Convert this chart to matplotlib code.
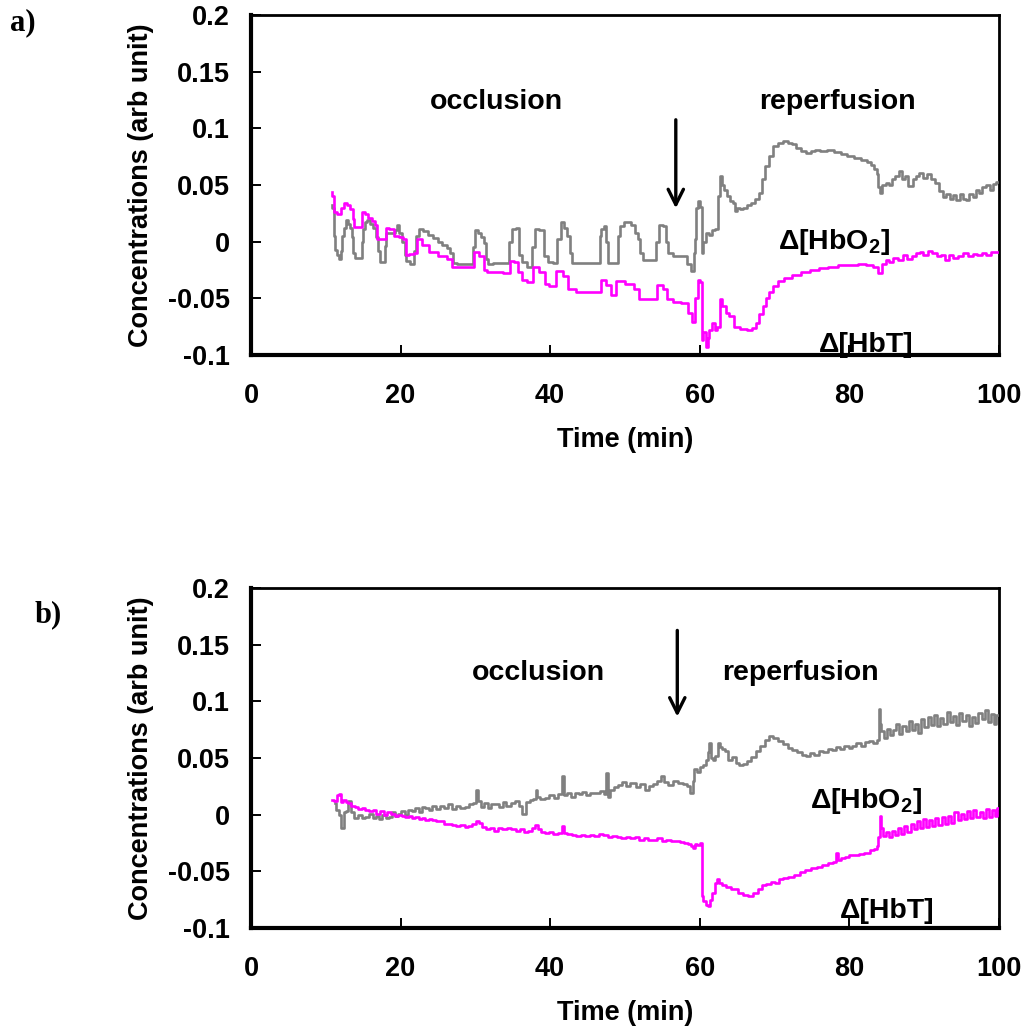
import matplotlib
matplotlib.use("Agg")
import matplotlib.pyplot as plt

plt.rcParams["font.family"] = ["Liberation Sans", "DejaVu Sans"]
plt.rcParams["font.weight"] = "bold"
plt.rcParams["mathtext.fontset"] = "custom"
plt.rcParams["mathtext.rm"] = "Liberation Sans:bold"
plt.rcParams["mathtext.default"] = "regular"

GRAY = "#808080"
MAGENTA = "#ff00ff"

# ---- panel a) : (time min, concentration) ----
hbo2_a = [
    (10.8, 0.032), (11.0, 0.030), (11.1, 0.005), (11.3, -0.007), (11.6, -0.012),
    (11.9, -0.015), (12.1, -0.008), (12.3, 0.005), (12.5, 0.012), (12.8, 0.019),
    (13.1, 0.016), (13.4, 0.012), (13.6, 0.004), (13.8, -0.010), (13.9, -0.014),
    (14.8, -0.014), (14.9, 0.000), (15.0, 0.011), (15.4, 0.017), (15.7, 0.019),
    (16.1, 0.016), (16.6, 0.012), (16.9, 0.004), (17.1, -0.008), (17.4, -0.018),
    (17.9, -0.018), (18.0, -0.004), (18.2, 0.008), (19.0, 0.008), (19.4, 0.010),
    (19.7, 0.015), (19.9, 0.008), (20.5, 0.000), (20.7, -0.012), (20.8, -0.017),
    (21.7, -0.020), (22.0, -0.008), (22.2, 0.005), (22.6, 0.011), (23.3, 0.009),
    (24.0, 0.006), (24.7, 0.003), (25.3, 0.000), (25.9, -0.003), (26.4, -0.006),
    (26.8, -0.010), (27.1, -0.019), (28.0, -0.020), (29.5, -0.020), (29.8, -0.005),
    (30.2, 0.010), (30.6, 0.008), (30.9, 0.004), (31.3, -0.001), (31.6, -0.015),
    (31.8, -0.020), (33.0, -0.019), (34.4, -0.019), (34.7, 0.000), (35.1, 0.011),
    (35.7, 0.012), (36.0, -0.012), (36.5, -0.018), (37.3, -0.022), (37.8, -0.005),
    (38.2, 0.011), (38.9, 0.010), (39.4, -0.013), (40.0, -0.018), (40.7, -0.019),
    (41.2, 0.002), (41.6, 0.017), (42.0, 0.012), (42.5, 0.005), (42.8, -0.010),
    (43.1, -0.019), (44.5, -0.019), (46.5, -0.019), (46.7, 0.005), (46.9, 0.011),
    (47.4, 0.014), (47.6, 0.000), (47.8, -0.019), (48.9, -0.019), (49.2, 0.005),
    (49.4, 0.014), (50.3, 0.017), (51.2, 0.015), (51.6, 0.008), (51.9, 0.002),
    (52.2, -0.010), (52.5, -0.016), (53.9, -0.016), (54.3, 0.000), (54.8, 0.015),
    (55.4, 0.014), (55.7, 0.000), (55.9, -0.010), (57.0, -0.013), (58.1, -0.013),
    (58.5, -0.020), (59.2, -0.026), (59.3, -0.010), (59.4, 0.002), (59.7, 0.030),
    (59.9, 0.036), (60.2, 0.031), (60.3, -0.010), (60.6, 0.000), (61.0, 0.008),
    (61.5, 0.006), (61.9, 0.010), (62.3, 0.011), (62.6, 0.040), (62.8, 0.058),
    (63.1, 0.050), (63.5, 0.046), (63.8, 0.040), (64.2, 0.036), (64.6, 0.034),
    (64.8, 0.027), (65.2, 0.030), (65.5, 0.029), (66.0, 0.030), (66.6, 0.032),
    (67.2, 0.034), (67.7, 0.038), (68.1, 0.043), (68.5, 0.055), (69.0, 0.067),
    (69.5, 0.076), (70.1, 0.084), (70.8, 0.087), (71.5, 0.089), (72.0, 0.087),
    (72.6, 0.086), (73.2, 0.083), (73.8, 0.080), (74.6, 0.078), (75.2, 0.080),
    (75.7, 0.081), (76.5, 0.080), (77.5, 0.081), (78.4, 0.079), (79.3, 0.077),
    (80.2, 0.076), (81.1, 0.074), (81.9, 0.072), (82.7, 0.070), (83.1, 0.068),
    (83.5, 0.064), (83.8, 0.060), (84.0, 0.048), (84.2, 0.043), (84.6, 0.050),
    (85.1, 0.052), (85.5, 0.050), (85.9, 0.055), (86.4, 0.058), (86.9, 0.062),
    (87.3, 0.055), (87.6, 0.058), (88.2, 0.049), (88.7, 0.055), (89.1, 0.058),
    (89.6, 0.061), (90.1, 0.056), (90.7, 0.060), (91.2, 0.055), (91.8, 0.052),
    (92.3, 0.045), (92.7, 0.039), (93.2, 0.042), (93.6, 0.038), (94.0, 0.041),
    (94.5, 0.037), (95.0, 0.042), (95.4, 0.038), (95.8, 0.037), (96.3, 0.042),
    (96.7, 0.039), (97.1, 0.046), (97.6, 0.043), (98.0, 0.048), (98.5, 0.050),
    (99.0, 0.046), (99.4, 0.051), (99.8, 0.053),
]

hbt_a = [
    (10.8, 0.044), (11.0, 0.040), (11.2, 0.026), (11.9, 0.024), (12.2, 0.030),
    (12.6, 0.034), (13.0, 0.032), (13.5, 0.029), (13.7, 0.020), (13.9, 0.013),
    (14.8, 0.013), (15.0, 0.026), (15.5, 0.024), (15.9, 0.021), (16.4, 0.018),
    (16.8, 0.015), (17.0, 0.002), (17.9, 0.002), (18.2, 0.012), (18.8, 0.011),
    (19.5, 0.005), (20.0, 0.004), (20.6, 0.002), (20.8, -0.012), (21.5, -0.011),
    (22.0, -0.010), (22.4, 0.002), (23.3, -0.003), (24.4, -0.009), (25.7, -0.013),
    (26.6, -0.015), (27.1, -0.022), (28.5, -0.022), (29.5, -0.022), (30.2, -0.009),
    (30.9, -0.013), (31.3, -0.025), (31.8, -0.027), (33.0, -0.027), (34.4, -0.028),
    (34.9, -0.017), (35.5, -0.018), (36.0, -0.027), (36.5, -0.034), (37.3, -0.036),
    (38.0, -0.022), (38.9, -0.027), (39.6, -0.037), (40.2, -0.039), (41.4, -0.026),
    (42.0, -0.030), (42.9, -0.042), (44.0, -0.044), (45.5, -0.044), (46.5, -0.044),
    (47.2, -0.034), (47.8, -0.038), (48.5, -0.047), (49.2, -0.035), (50.7, -0.037),
    (51.6, -0.042), (52.1, -0.051), (53.0, -0.051), (53.9, -0.051), (54.8, -0.038),
    (55.4, -0.042), (55.9, -0.051), (57.0, -0.053), (58.1, -0.054), (58.8, -0.063),
    (59.2, -0.071), (59.5, -0.050), (60.0, -0.034), (60.2, -0.036), (60.3, -0.087),
    (60.6, -0.080), (61.0, -0.093), (61.2, -0.085), (61.4, -0.078), (61.9, -0.072),
    (62.2, -0.078), (62.5, -0.075), (62.8, -0.051), (63.2, -0.057), (63.7, -0.063),
    (64.1, -0.066), (65.0, -0.075), (65.9, -0.077), (66.8, -0.078), (67.3, -0.076),
    (67.7, -0.072), (68.2, -0.064), (68.6, -0.057), (69.0, -0.050), (69.5, -0.044),
    (70.1, -0.039), (70.8, -0.035), (71.8, -0.032), (73.0, -0.029), (74.1, -0.027),
    (75.3, -0.025), (76.5, -0.023), (77.9, -0.022), (79.2, -0.021), (80.6, -0.021),
    (81.7, -0.020), (82.8, -0.021), (83.6, -0.022), (84.2, -0.028), (84.6, -0.020),
    (85.1, -0.016), (85.6, -0.018), (86.1, -0.014), (86.9, -0.016), (87.4, -0.012),
    (88.0, -0.015), (88.7, -0.013), (89.2, -0.010), (89.6, -0.009), (90.2, -0.012),
    (90.8, -0.008), (91.4, -0.010), (92.0, -0.013), (92.6, -0.012), (93.1, -0.016),
    (93.6, -0.012), (94.2, -0.014), (94.9, -0.013), (95.5, -0.010), (96.2, -0.013),
    (96.8, -0.011), (97.4, -0.012), (98.0, -0.010), (98.6, -0.012), (99.2, -0.009),
    (99.8, -0.009),
]

# ---- panel b) ----
hbo2_b = [
    (11.2, 0.010), (11.6, 0.004), (11.9, 0.000), (12.3, -0.012), (12.5, 0.002),
    (12.8, 0.003), (13.2, 0.012), (13.5, 0.002), (14.1, -0.003), (14.6, 0.000),
    (15.0, -0.003), (15.5, -0.002), (16.0, 0.001), (16.5, -0.003), (17.0, -0.001),
    (17.3, -0.004), (17.8, 0.000), (18.3, -0.003), (18.6, -0.002), (19.1, 0.002),
    (19.5, -0.001), (19.9, 0.001), (20.3, 0.003), (20.8, 0.000), (21.3, 0.004),
    (21.7, 0.003), (22.2, 0.006), (22.6, 0.002), (23.1, 0.007), (23.5, 0.006),
    (24.0, 0.004), (24.5, 0.008), (25.0, 0.005), (25.5, 0.008), (26.0, 0.006),
    (26.6, 0.009), (27.1, 0.005), (27.6, 0.008), (28.2, 0.006), (28.9, 0.007),
    (29.5, 0.009), (30.0, 0.010), (30.3, 0.022), (30.5, 0.012), (30.9, 0.007),
    (31.4, 0.010), (31.9, 0.006), (32.4, 0.009), (32.9, 0.009), (33.4, 0.007),
    (33.9, 0.011), (34.4, 0.008), (35.1, 0.010), (35.6, 0.012), (36.0, 0.008),
    (36.5, 0.001), (37.0, 0.011), (37.5, 0.013), (38.0, 0.014), (38.2, 0.022),
    (38.4, 0.016), (38.9, 0.014), (39.6, 0.015), (40.2, 0.017), (40.8, 0.015),
    (41.4, 0.018), (41.8, 0.034), (42.0, 0.017), (42.5, 0.019), (43.0, 0.016),
    (43.6, 0.019), (44.0, 0.018), (44.6, 0.020), (45.1, 0.017), (45.6, 0.019),
    (46.3, 0.019), (46.9, 0.021), (47.4, 0.018), (47.6, 0.037), (47.8, 0.016),
    (48.3, 0.022), (48.8, 0.024), (49.4, 0.026), (49.9, 0.029), (50.4, 0.025),
    (50.9, 0.028), (51.2, 0.028), (51.7, 0.024), (52.3, 0.027), (53.0, 0.022),
    (53.5, 0.025), (54.1, 0.027), (54.6, 0.030), (55.0, 0.034), (55.4, 0.029),
    (56.1, 0.026), (56.7, 0.030), (57.4, 0.028), (58.0, 0.027), (58.5, 0.025),
    (59.0, 0.019), (59.2, 0.030), (59.4, 0.040), (59.8, 0.038), (60.2, 0.042),
    (60.6, 0.044), (61.0, 0.048), (61.2, 0.055), (61.4, 0.063), (61.6, 0.050),
    (61.9, 0.048), (62.3, 0.052), (62.6, 0.063), (62.8, 0.060), (63.2, 0.058),
    (63.5, 0.056), (64.1, 0.048), (64.6, 0.051), (65.0, 0.046), (65.5, 0.044),
    (66.0, 0.045), (66.6, 0.047), (67.2, 0.051), (67.8, 0.056), (68.4, 0.061),
    (69.0, 0.066), (69.5, 0.069), (70.1, 0.068), (70.8, 0.065), (71.5, 0.062),
    (72.1, 0.059), (72.6, 0.057), (73.3, 0.055), (74.0, 0.053), (74.4, 0.052),
    (75.0, 0.054), (75.6, 0.053), (76.2, 0.056), (76.8, 0.055), (77.4, 0.058),
    (78.0, 0.057), (78.4, 0.060), (79.0, 0.058), (79.6, 0.061), (80.2, 0.059),
    (80.6, 0.061), (81.2, 0.063), (81.8, 0.061), (82.3, 0.064), (82.9, 0.065),
    (83.4, 0.063), (83.9, 0.066), (84.0, 0.093), (84.2, 0.080), (84.4, 0.074),
    (84.8, 0.068), (85.2, 0.076), (85.6, 0.070), (86.0, 0.075), (86.4, 0.080),
    (86.8, 0.071), (87.3, 0.078), (87.8, 0.074), (88.2, 0.083), (88.6, 0.075),
    (89.0, 0.080), (89.4, 0.072), (89.8, 0.084), (90.3, 0.077), (90.7, 0.086),
    (91.1, 0.079), (91.5, 0.088), (91.9, 0.078), (92.3, 0.085), (92.8, 0.080),
    (93.2, 0.091), (93.6, 0.082), (94.0, 0.087), (94.5, 0.079), (94.9, 0.090),
    (95.3, 0.083), (95.8, 0.088), (96.2, 0.078), (96.6, 0.086), (97.0, 0.081),
    (97.5, 0.090), (97.9, 0.084), (98.3, 0.092), (98.7, 0.082), (99.1, 0.089),
    (99.5, 0.080), (99.8, 0.088),
]

hbt_b = [
    (10.9, 0.013), (11.3, 0.012), (11.6, 0.017), (11.9, 0.018), (12.2, 0.011),
    (12.5, 0.013), (12.8, 0.011), (13.2, 0.010), (13.6, 0.008), (14.1, 0.007),
    (14.6, 0.005), (15.0, 0.006), (15.5, 0.004), (16.0, 0.003), (16.5, 0.004),
    (17.0, 0.001), (17.5, 0.003), (18.0, 0.000), (18.5, 0.002), (19.0, 0.001),
    (19.5, -0.001), (19.9, 0.000), (20.4, -0.001), (20.9, -0.002), (21.3, -0.001),
    (21.7, -0.003), (22.2, -0.002), (22.7, -0.004), (23.1, -0.003), (23.5, -0.005),
    (24.0, -0.004), (24.5, -0.005), (25.0, -0.006), (25.5, -0.006), (26.0, -0.008),
    (26.6, -0.008), (27.1, -0.009), (27.7, -0.010), (28.3, -0.009), (28.8, -0.011),
    (29.3, -0.010), (29.9, -0.008), (30.3, -0.006), (30.7, -0.007), (31.2, -0.011),
    (31.6, -0.013), (32.2, -0.012), (32.8, -0.014), (33.3, -0.012), (33.9, -0.013),
    (34.5, -0.012), (35.1, -0.013), (35.7, -0.014), (36.3, -0.013), (36.8, -0.015),
    (37.3, -0.014), (37.8, -0.012), (38.2, -0.009), (38.5, -0.013), (39.0, -0.015),
    (39.6, -0.016), (40.1, -0.015), (40.7, -0.017), (41.3, -0.016), (41.8, -0.010),
    (42.0, -0.016), (42.6, -0.017), (43.2, -0.018), (43.8, -0.019), (44.4, -0.018),
    (45.0, -0.019), (45.6, -0.018), (46.2, -0.019), (46.8, -0.017), (47.4, -0.018),
    (48.0, -0.020), (48.6, -0.019), (49.2, -0.020), (49.8, -0.021), (50.4, -0.020),
    (51.0, -0.021), (51.6, -0.020), (52.2, -0.022), (52.8, -0.021), (53.4, -0.022),
    (54.0, -0.022), (54.6, -0.021), (55.2, -0.023), (55.8, -0.022), (56.4, -0.023),
    (57.0, -0.023), (57.6, -0.024), (58.2, -0.025), (58.6, -0.026), (59.0, -0.028),
    (59.2, -0.029), (59.5, -0.026), (59.9, -0.027), (60.2, -0.025), (60.3, -0.072),
    (60.7, -0.076), (61.0, -0.080), (61.2, -0.081), (61.5, -0.075), (61.9, -0.069),
    (62.2, -0.060), (62.4, -0.057), (62.8, -0.060), (63.2, -0.062), (63.8, -0.064),
    (64.6, -0.066), (65.5, -0.069), (66.2, -0.071), (66.8, -0.072), (67.5, -0.069),
    (68.1, -0.066), (68.6, -0.062), (69.2, -0.061), (69.8, -0.059), (70.3, -0.060),
    (70.8, -0.057), (71.5, -0.056), (72.2, -0.055), (73.0, -0.053), (73.7, -0.051),
    (74.5, -0.049), (75.3, -0.047), (76.0, -0.046), (76.8, -0.044), (77.5, -0.043),
    (78.1, -0.042), (78.4, -0.034), (78.6, -0.040), (79.1, -0.038), (79.7, -0.037),
    (80.3, -0.036), (81.0, -0.036), (81.6, -0.035), (82.4, -0.034), (83.0, -0.031),
    (83.5, -0.030), (83.8, -0.028), (84.0, -0.020), (84.1, -0.001), (84.3, -0.012),
    (84.7, -0.019), (85.1, -0.015), (85.5, -0.020), (85.9, -0.014), (86.3, -0.018),
    (86.7, -0.012), (87.1, -0.017), (87.5, -0.010), (88.0, -0.015), (88.4, -0.008),
    (88.8, -0.013), (89.2, -0.006), (89.6, -0.012), (90.0, -0.004), (90.4, -0.011),
    (90.9, -0.005), (91.3, -0.010), (91.7, -0.003), (92.1, -0.009), (92.6, -0.002),
    (93.0, -0.008), (93.4, -0.001), (93.8, -0.007), (94.3, 0.002), (94.7, -0.005),
    (95.1, 0.001), (95.5, -0.004), (96.0, 0.003), (96.4, -0.003), (96.8, 0.004),
    (97.2, -0.002), (97.7, 0.002), (98.1, -0.003), (98.5, 0.005), (98.9, -0.002),
    (99.3, 0.004), (99.7, -0.001), (99.9, 0.006),
]

x_ticks = [0, 20, 40, 60, 80, 100]
y_ticks = [-0.1, -0.05, 0, 0.05, 0.1, 0.15, 0.2]
y_ticklabels = ["-0.1", "-0.05", "0", "0.05", "0.1", "0.15", "0.2"]

FS_TICK = 19.5
FS_LABEL = 19.5
FS_NOTE = 20.5

fig = plt.figure(figsize=(10.26, 10.35), dpi=100)
ax_a = fig.add_axes([0.2446, 0.657, 0.729, 0.3285])
ax_b = fig.add_axes([0.2446, 0.1034, 0.729, 0.3285])

panels = [
    (ax_a, hbo2_a, hbt_a, "a)", (0.010, 0.978),
     dict(occl=(32.8, 0.123), rep=(78.4, 0.123), o2=(78.0, 0.0),
          hbt=(82.3, -0.091), arrow=(56.8, 0.110, 0.027))),
    (ax_b, hbo2_b, hbt_b, "b)", (0.034, 0.406),
     dict(occl=(38.4, 0.125), rep=(73.5, 0.125), o2=(82.3, 0.012),
          hbt=(85.1, -0.085), arrow=(57.0, 0.165, 0.084))),
]

for ax, o2, hb, tag, tagpos, lab in panels:
    # sampled traces: draw as a stepped line like the logger output
    ax.plot([p[0] for p in o2], [p[1] for p in o2], color=GRAY, lw=1.9,
            drawstyle="steps-mid", zorder=3)
    ax.plot([p[0] for p in hb], [p[1] for p in hb], color=MAGENTA, lw=1.9,
            drawstyle="steps-mid", zorder=4)
    ax.set_xlim(0, 100)
    ax.set_ylim(-0.1, 0.2)
    ax.set_xticks(x_ticks)
    ax.set_yticks(y_ticks)
    ax.set_yticklabels(y_ticklabels)
    ax.tick_params(axis="both", direction="in", length=7, width=1.4,
                   labelsize=FS_TICK)
    ax.tick_params(axis="x", pad=20)
    ax.tick_params(axis="y", pad=15)
    for lbl in ax.get_xticklabels() + ax.get_yticklabels():
        lbl.set_fontweight("bold")
    for side in ["left", "bottom"]:
        ax.spines[side].set_linewidth(3.0)
    for side in ["top", "right"]:
        ax.spines[side].set_linewidth(2.0)
    ax.set_xlabel("Time (min)", fontsize=FS_LABEL, fontweight="bold",
                  labelpad=13)
    ax.set_ylabel("Concentrations (arb unit)", fontsize=FS_LABEL,
                  fontweight="bold", labelpad=10)

    ax.text(*lab["occl"], "occlusion", fontsize=FS_NOTE, fontweight="bold",
            ha="center", va="center")
    ax.text(*lab["rep"], "reperfusion", fontsize=FS_NOTE, fontweight="bold",
            ha="center", va="center")
    ax.text(*lab["o2"], r"Δ[HbO$_2$]", fontsize=FS_NOTE, fontweight="bold",
            ha="center", va="center", zorder=5)
    ax.text(*lab["hbt"], "Δ[HbT]", fontsize=FS_NOTE, fontweight="bold",
            ha="center", va="center", zorder=5)
    ax_x, y0, y1 = lab["arrow"]
    ax.annotate("", xy=(ax_x, y1), xytext=(ax_x, y0),
                arrowprops=dict(arrowstyle="->,head_length=1.1,head_width=0.55",
                                lw=2.4, color="black"))
    fig.text(*tagpos, tag, fontsize=22, fontweight="bold",
             family=["Liberation Serif", "DejaVu Serif"], ha="left",
             va="center")

fig.savefig("out.png", dpi=100)
